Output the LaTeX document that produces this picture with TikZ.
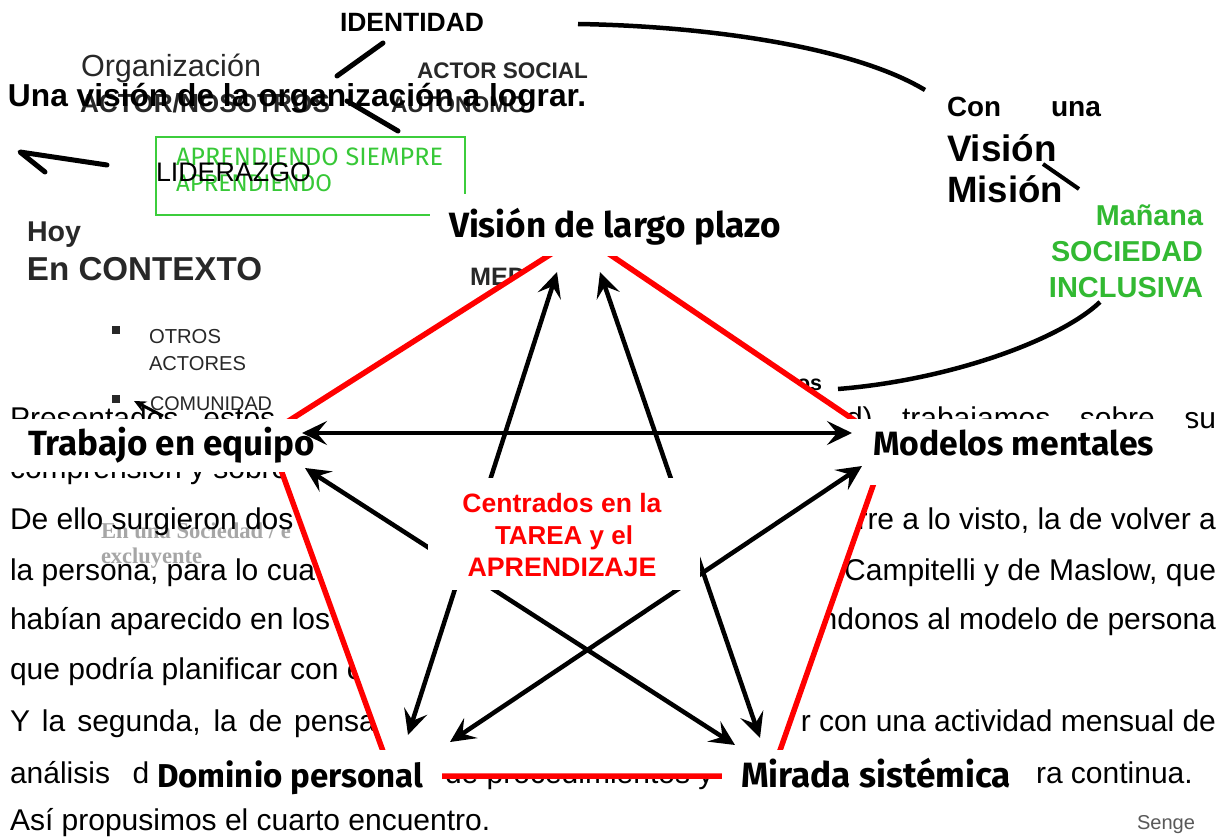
\documentclass[tikz,border=0pt]{standalone}
\usepackage{fontspec}
\setmainfont{Liberation Sans}
\newfontfamily\serifgray{Liberation Serif}
\newfontfamily\cfont{Fira Sans}
\usetikzlibrary{arrows.meta}
\definecolor{boxgreen}{RGB}{60,205,60}
\definecolor{txtgreen}{RGB}{55,200,55}
\definecolor{slidegreen}{RGB}{50,185,50}
\definecolor{pentred}{RGB}{255,0,0}
\definecolor{slidegray}{RGB}{40,40,40}
\newcommand{\fw}[2]{\resizebox{#1pt}{!}{#2}}
\begin{document}
\begin{tikzpicture}[x=1pt,y=-1pt,
  every node/.style={inner sep=0pt,outer sep=0pt},
  para/.style={anchor=base west,font=\fontsize{30}{36}\selectfont},
  parar/.style={anchor=base east,font=\fontsize{30}{36}\selectfont},
  bw/.style={anchor=base west},
  be/.style={anchor=base east},
  bc/.style={anchor=base},
  stroke/.style={line width=5pt,line cap=round,line join=round},
  pentedge/.style={draw=pentred,line width=5.5pt},
  dbl/.style={line width=4.5pt,{Stealth[length=25pt,width=24pt,inset=10pt]}-{Stealth[length=25pt,width=24pt,inset=10pt]}},
  wbox/.style={fill=white,draw=none},
  lbl/.style={anchor=base west,font=\cfont\bfseries},
]
\path[use as bounding box,fill=white] (0,0) rectangle (1229,840);

% faint serif text from the slide underneath
\node[bw,text=black!35] (g1) at (101,538) {\fw{190}{\serifgray\bfseries En una Sociedad / e}};
\node[bw,text=black!35] (g2) at (101,563) {\fw{101}{\serifgray\bfseries excluyente}};

% paragraph text
\node[para] (p1a) at (10,428) {\makebox[307pt][s]{Presentados estos n}};
\node[parar] (p1b) at (1216,428) {\makebox[370pt][s]{d) trabajamos sobre su}};
\node[para] (p2a) at (10,478) {comprensión y sobre};
\node[para] (p3a) at (10,529) {De ello surgieron dos};
\node[parar] (p3b) at (1216,529) {rre a lo visto, la de volver a};
\node[para] (p4a) at (10,580) {la persona, para lo cua};
\node[parar] (p4b) at (1216,580) {Campitelli y de Maslow, que};
\node[para] (p5a) at (10,629) {habían aparecido en los};
\node[parar] (p5b) at (1216,629) {ndonos al modelo de persona};
\node[para] (p6a) at (10,679) {que podría planificar con e};
\node[para] (p7a) at (10,731) {\makebox[366pt][s]{Y la segunda, la de pensa}};
\node[parar] (p7b) at (1216,731) {r con una actividad mensual de};
\node[para] (p8a) at (10,783) {\makebox[156pt][s]{análisis de}};
\node[para] (p8b) at (445,783) {de procedimientos y};
\node[para] (p8c) at (1036,783) {ra continua.};
\node[para] (p9a) at (10,830) {Así propusimos el cuarto encuentro.};

% slide layer, top left
\node[bw] (ident) at (340,32) {\fw{144}{\bfseries IDENTIDAD}};
\node[bw,text=slidegray] (org) at (81,77) {\fw{180}{Organización}};
\node[bw,text=slidegray] (nos) at (80,113) {\fw{250}{\bfseries ACTOR/NOSOTROS}};
\node[bw,text=slidegray] (soc) at (417,79) {\fw{171}{\bfseries ACTOR SOCIAL}};
\node[bw,text=slidegray] (aut) at (391,113) {\fw{135}{\bfseries AUTONOMO}};
\coordinate (s1a) at (337,76); \coordinate (s1b) at (383,43);
\coordinate (s2a) at (347,101); \coordinate (s2b) at (398,131);
\draw[stroke] (s1a) -- (s1b);
\draw[stroke] (s2a) -- (s2b);
\coordinate (q1) at (45,172); \coordinate (q2) at (20,152); \coordinate (q3) at (107,165);
\draw[stroke] (q1) -- (q2) -- (q3);
\draw[boxgreen,line width=1.5pt] (156,137) rectangle (465,215);
\node[bw,text=txtgreen] (ap1) at (176,166) {\fw{267}{\cfont APRENDIENDO SIEMPRE}};
\node[bw,text=txtgreen] (ap2) at (176,192) {\fw{156}{\cfont APRENDIENDO}};
\node[bw] (lid) at (156,182) {\fw{155}{LIDERAZGO}};
\node[bw,text=slidegray] (hoy) at (27,241) {\fw{54}{\bfseries Hoy}};
\node[bw,text=slidegray] (ctx) at (27,280) {\fw{235}{\bfseries En CONTEXTO}};
\fill[slidegray] (112,326) rectangle (120,334);
\fill[slidegray] (112,395) rectangle (120,403);
\node[bw,text=slidegray] (otr) at (149,343) {\fw{72}{OTROS}};
\node[bw,text=slidegray] (act) at (149,370) {\fw{97}{ACTORES}};
\node[bw,text=slidegray] (com) at (150,410) {\fw{122}{COMUNIDAD}};
\coordinate (sa1) at (163,416); \coordinate (sa2) at (134,401);
\draw[line width=3pt,-{Stealth[length=12pt,width=11pt]}] (sa1) -- (sa2);
\node[bw,text=slidegray] (med) at (470,285) {\fw{56}{\bfseries MED}};

% slide layer, top right
\coordinate (c1a) at (578,24); \coordinate (c1b) at (925,90);
\draw[line width=4.5pt] (c1a) .. controls (700,26) and (850,45) .. (c1b);
\node[bw] (con) at (947,117) {\fw{54}{\bfseries Con}};
\node[bw] (una) at (1051,117) {\fw{50}{\bfseries una}};
\node[bw] (vis) at (947,161) {\fw{110}{\bfseries Visión}};
\node[bw] (mis) at (947,203) {\fw{116}{\bfseries Misión}};
\coordinate (s3a) at (1043,164); \coordinate (s3b) at (1079,189);
\draw[line width=4pt] (s3a) -- (s3b);
\node[be,text=slidegreen] (man) at (1203,225) {\fw{107}{\bfseries Mañana}};
\node[be,text=slidegreen] (sod) at (1203,261) {\fw{152}{\bfseries SOCIEDAD}};
\node[be,text=slidegreen] (inc) at (1203,297) {\fw{154}{\bfseries INCLUSIVA}};
\coordinate (c2a) at (1100,302); \coordinate (c2b) at (838,389);
\draw[line width=4.5pt] (c2a) .. controls (1060,340) and (950,380) .. (c2b);
\node[bw] (os) at (797,390) {\fw{25}{\bfseries os}};

% title
\node[bw] (title) at (8,107) {\fw{578}{\bfseries Una visión de la organización a lograr.}};

% diagram: pentagon
\coordinate (V) at (581,235);
\coordinate (R) at (888,443);
\coordinate (BR) at (771,776);
\coordinate (BL) at (392,776);
\coordinate (L) at (268,434);
\fill[white] (V) -- (R) -- (BR) -- (BL) -- (L) -- cycle;
\draw[pentedge] (V) -- (R) -- (BR) -- (BL) -- (L) -- cycle;

% label boxes
\fill[wbox] (430,194) rectangle (790,256);
\fill[wbox] (0,419) rectangle (325,472);
\fill[wbox] (822,419) rectangle (1188,485);
\fill[wbox] (150,750) rectangle (442,805);
\fill[wbox] (722,750) rectangle (1012,805);
\node[lbl] (nV) at (449,237) {\fw{332}{Visión de largo plazo}};
\node[lbl] (nT) at (28,455) {\fw{287}{Trabajo en equipo}};
\node[lbl] (nM) at (873,455) {\fw{281}{Modelos mentales}};
\node[lbl] (nD) at (157,787) {\fw{266}{Dominio personal}};
\node[lbl] (nS) at (741,787) {\fw{270}{Mirada sistémica}};

% arrow ends
\coordinate (tV1) at (557,272); \coordinate (tV2) at (600,272);
\coordinate (tT1) at (302,433); \coordinate (tT2) at (305,468);
\coordinate (tM1) at (852,433); \coordinate (tM2) at (862,466);
\coordinate (tD1) at (408,735); \coordinate (tD2) at (450,742);
\coordinate (tS1) at (735,745); \coordinate (tS2) at (760,738);
\draw[dbl] (tT1) -- (tM1);
\draw[dbl] (tV1) -- (tD1);
\draw[dbl] (tV2) -- (tS2);
\draw[dbl] (tT2) -- (tS1);
\draw[dbl] (tM2) -- (tD2);

% centre
\fill[wbox] (428,478) rectangle (700,590);
\node[bc,text=pentred] (c1) at (562,512) {\fw{199}{\bfseries Centrados en la}};
\node[bc,text=pentred] (c2) at (564,544) {\fw{138}{\bfseries TAREA y el}};
\node[bc,text=pentred] (c3) at (562,576) {\fw{189}{\bfseries APRENDIZAJE}};

\node[be,text=black!65] (senge) at (1195,829) {\fw{58}{Senge}};
\end{tikzpicture}
\end{document}
